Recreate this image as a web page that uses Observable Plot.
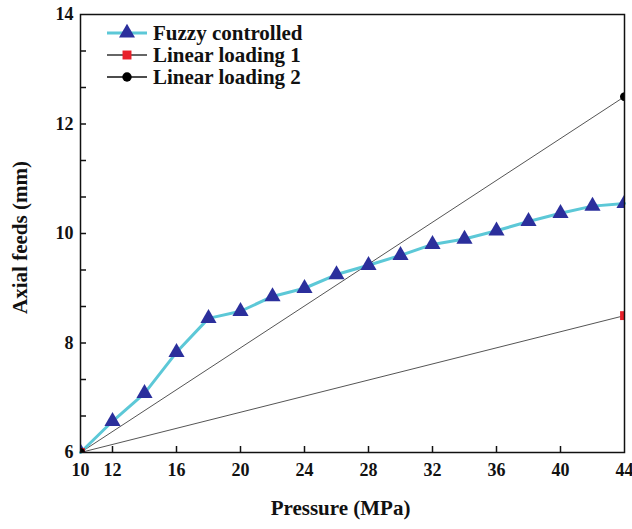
<!DOCTYPE html>
<html>
<head>
<meta charset="utf-8">
<script src="https://cdn.jsdelivr.net/npm/d3@7"></script>
<script src="https://cdn.jsdelivr.net/npm/@observablehq/plot@0.6"></script>
<style>
  html, body { margin: 0; padding: 0; background: #fff; }
  #wrap { position: relative; width: 632px; height: 529px; }
  #legend { position: absolute; left: 0; top: 0; pointer-events: none; }
</style>
</head>
<body>
<div id="wrap"></div>
<script>
// Data
const pressure = [10, 12, 14, 16, 18, 20, 22, 24, 26, 28, 30, 32, 34, 36, 38, 40, 42, 44];
const fuzzyFeed = [6.0, 6.57, 7.08, 7.83, 8.45, 8.58, 8.85, 9.0, 9.25, 9.42, 9.6, 9.8, 9.9, 10.05, 10.22, 10.37, 10.5, 10.55];
const linear1X = [10, 44];
const linear1Y = [6.0, 8.5];
const linear2X = [10, 44];
const linear2Y = [6.0, 12.5];
const xTickLabels = [10, 12, 16, 20, 24, 28, 32, 36, 40, 44];
const xInnerTicks = [12, 16, 20, 24, 28, 32, 36, 40];
const yTickLabels = [6, 8, 10, 12, 14];
const yMinorTicks = [6 + 2/3, 6 + 4/3, 8, 8 + 2/3, 8 + 4/3, 10, 10 + 2/3, 10 + 4/3, 12, 12 + 2/3, 12 + 4/3];
const seriesNames = ["Fuzzy controlled", "Linear loading 1", "Linear loading 2"];

const fuzzy = pressure.map((p, i) => ({x: p, y: fuzzyFeed[i]}));
const lin1 = linear1X.map((p, i) => ({x: p, y: linear1Y[i]}));
const lin2 = linear2X.map((p, i) => ({x: p, y: linear2Y[i]}));

const cyan = "#5cc8d7";
const blue = "#2b2f9c";
const red = "#e8202a";
const font = "'Liberation Serif', 'Times New Roman', serif";

const chart = Plot.plot({
  width: 632,
  height: 529,
  marginLeft: 80,
  marginRight: 8,
  marginTop: 14,
  marginBottom: 77,
  style: {fontFamily: font, fontWeight: "bold", fontSize: "18px", color: "#111", background: "#fff"},
  x: {domain: [10, 44], label: null},
  y: {domain: [6, 14], label: null},
  marks: [
    Plot.axisX({ticks: xInnerTicks, tickSize: 6, dy: -6, text: null, label: null, strokeWidth: 1.5}),
    Plot.axisX({ticks: xTickLabels, tickSize: 0, tickPadding: 11, fontSize: 18, fontWeight: "bold", label: null}),
    Plot.axisY({ticks: yMinorTicks, tickSize: 6, dx: 6, text: null, label: null, strokeWidth: 1.5}),
    Plot.axisY({ticks: yTickLabels, tickSize: 0, tickPadding: 7, fontSize: 18, fontWeight: "bold", label: null}),
    Plot.text(["Pressure (MPa)"], {frameAnchor: "bottom", dy: 62, dx: -12, fontSize: 21, fontWeight: "bold", fill: "#111"}),
    Plot.text(["Axial feeds (mm)"], {frameAnchor: "left", dx: -60, dy: 4, rotate: -90, textAnchor: "middle", fontSize: 21, fontWeight: "bold", fill: "#111"}),
    Plot.line(lin1, {x: "x", y: "y", stroke: "#555", strokeWidth: 1}),
    Plot.line(lin2, {x: "x", y: "y", stroke: "#555", strokeWidth: 1}),
    Plot.line(fuzzy, {x: "x", y: "y", stroke: cyan, strokeWidth: 3}),
    Plot.dot(fuzzy, {x: "x", y: "y", symbol: "triangle", r: 6, fill: blue, clip: true}),
    Plot.dot(lin1, {x: "x", y: "y", symbol: "square", r: 5, fill: red, clip: true}),
    Plot.dot(lin2, {x: "x", y: "y", symbol: "circle", r: 4.5, fill: "#000", clip: true}),
    Plot.frame({stroke: "#111", strokeWidth: 1.5})
  ]
});

const wrap = document.getElementById("wrap");
wrap.appendChild(chart);

// Legend overlay
const leg = d3.select(wrap).append("svg")
  .attr("id", "legend")
  .attr("width", 632).attr("height", 110);
const rows = [
  {name: seriesNames[0], line: cyan, lw: 3, sym: d3.symbolTriangle, size: 110, fill: blue},
  {name: seriesNames[1], line: "#333", lw: 1.5, sym: d3.symbolSquare, size: 80, fill: red},
  {name: seriesNames[2], line: "#111", lw: 1.5, sym: d3.symbolCircle, size: 70, fill: "#000"}
];
const rowY = [33, 55, 77];
rows.forEach((r, i) => {
  const g = leg.append("g").attr("transform", `translate(0,${rowY[i]})`);
  g.append("line").attr("x1", 107).attr("x2", 147).attr("y1", 0).attr("y2", 0)
    .attr("stroke", r.line).attr("stroke-width", r.lw);
  g.append("path").attr("d", d3.symbol(r.sym, r.size)()).attr("transform", "translate(127,0)")
    .attr("fill", r.fill);
  g.append("text").attr("x", 153).attr("y", 0).attr("dy", "0.35em")
    .attr("font-family", font).attr("font-weight", "bold").attr("font-size", 21)
    .attr("fill", "#111").text(r.name);
});
</script>
</body>
</html>
